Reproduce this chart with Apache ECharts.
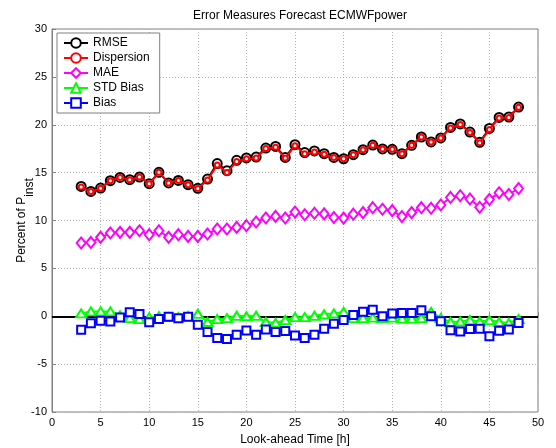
<!DOCTYPE html>
<html>
<head>
<meta charset="utf-8">
<script src="https://cdn.jsdelivr.net/npm/echarts@6/dist/echarts.min.js"></script>
<style>
  html, body { margin: 0; padding: 0; background: #fff; }
  #chart { width: 556px; height: 448px; }
</style>
</head>
<body>
<div id="chart"></div>
<script>
// Look-ahead hours and error measures (percent of installed power)
const HOURS = [3, 4, 5, 6, 7, 8, 9, 10, 11, 12, 13, 14, 15, 16, 17, 18, 19, 20, 21, 22, 23, 24, 25,
  26, 27, 28, 29, 30, 31, 32, 33, 34, 35, 36, 37, 38, 39, 40, 41, 42, 43, 44, 45, 46, 47, 48];

const RMSE = [13.56, 13.04, 13.39, 14.16, 14.50, 14.26, 14.54, 13.84, 15.03, 13.92, 14.19, 13.74,
  13.36, 14.33, 15.95, 15.20, 16.28, 16.53, 16.63, 17.57, 17.74, 16.59, 17.92, 17.10, 17.26, 16.98,
  16.59, 16.45, 16.87, 17.40, 17.88, 17.47, 17.43, 16.98, 17.85, 18.72, 18.20, 18.62, 19.72, 20.08,
  19.24, 18.16, 19.62, 20.77, 20.81, 21.85];

const DISPERSION = [13.49, 13.02, 13.38, 14.15, 14.50, 14.25, 14.54, 13.83, 15.03, 13.92, 14.19, 13.74,
  13.33, 14.23, 15.79, 15.02, 16.17, 16.46, 16.52, 17.52, 17.66, 16.52, 17.81, 16.96, 17.15, 16.93,
  16.57, 16.45, 16.87, 17.39, 17.87, 17.47, 17.43, 16.98, 17.85, 18.71, 18.20, 18.61, 19.67, 20.02,
  19.20, 18.11, 19.51, 20.71, 20.76, 21.84];

const MAE = [7.65, 7.71, 8.24, 8.69, 8.76, 8.76, 8.93, 8.52, 8.93, 8.24, 8.52, 8.34, 8.34, 8.59,
  9.11, 9.11, 9.28, 9.46, 9.84, 10.26, 10.43, 10.26, 10.88, 10.60, 10.76, 10.69, 10.31, 10.25, 10.66,
  10.82, 11.34, 11.17, 11.03, 10.41, 10.82, 11.34, 11.28, 11.62, 12.41, 12.58, 12.24, 11.38, 12.20,
  12.89, 12.72, 13.34];

const STD_BIAS = [0.30, 0.50, 0.50, 0.50, 0.10, -0.20, -0.30, -0.10, 0.00, -0.10, -0.10, 0.00, 0.25,
  -0.60, -0.30, -0.20, 0.05, 0.00, 0.05, -0.60, -0.70, -0.40, -0.10, -0.10, 0.05, 0.20, 0.30, 0.45,
  -0.20, -0.20, -0.15, -0.20, -0.15, -0.25, -0.25, -0.20, 0.45, -0.20, -0.60, -0.55, -0.40, -0.55,
  -0.40, -0.60, -0.70, -0.30];

const BIAS = [-1.41, -0.72, -0.48, -0.55, -0.14, 0.41, 0.24, -0.62, -0.28, -0.04, -0.21, -0.04, -0.90,
  -1.65, -2.27, -2.38, -1.93, -1.48, -1.93, -1.38, -1.65, -1.55, -2.00, -2.27, -1.93, -1.31, -0.79,
  -0.38, 0.13, 0.48, 0.68, 0.00, 0.30, 0.35, 0.34, 0.62, 0.00, -0.52, -1.46, -1.58, -1.32, -1.31,
  -2.10, -1.52, -1.38, -0.70];

const FONT = '"Liberation Sans", Arial, Helvetica, sans-serif';
const pairs = (vals) => HOURS.map((h, i) => [h, vals[i]]);

function lineSeries(name, vals, color, symbol, size, fill, z) {
  return {
    name: name,
    type: 'line',
    data: pairs(vals),
    z: z,
    symbol: symbol,
    symbolSize: size,
    showAllSymbol: true,
    animation: false,
    lineStyle: { color: color, width: 2 },
    itemStyle: { color: fill, borderColor: color, borderWidth: 2 },
    emphasis: { disabled: true }
  };
}

const chart = echarts.init(document.getElementById('chart'), null, { renderer: 'canvas' });

const series = [
  lineSeries('RMSE', RMSE, '#000000', 'circle', 9, '#ffffff', 2),
  lineSeries('Dispersion', DISPERSION, '#ff0000', 'circle', 5, '#ffffff', 3),
  lineSeries('MAE', MAE, '#ff00ff', 'diamond', [9, 11], '#ffffff', 4),
  lineSeries('STD Bias', STD_BIAS, '#00ff00', 'triangle', [10, 8], '#ffffff', 5),
  lineSeries('Bias', BIAS, '#0000ff', 'rect', 8, '#ffffff', 6)
];

// zero reference line
series[0].markLine = {
  silent: true,
  symbol: 'none',
  label: { show: false },
  lineStyle: { color: '#000000', width: 2, type: 'solid' },
  data: [{ yAxis: 0 }]
};

chart.setOption({
  backgroundColor: '#ffffff',
  textStyle: { fontFamily: FONT },
  title: {
    text: 'Error Measures Forecast ECMWFpower',
    left: 295,
    textAlign: 'center',
    top: 5,
    textStyle: { fontFamily: FONT, fontSize: 12, fontWeight: 'normal', color: '#000' }
  },
  legend: {
    left: 57,
    top: 33,
    orient: 'vertical',
    backgroundColor: '#ffffff',
    borderColor: '#808080',
    borderWidth: 1,
    borderRadius: 0,
    padding: [4, 10, 4, 6],
    itemGap: 3,
    itemWidth: 24,
    itemHeight: 12,
    z: 10,
    textStyle: { fontFamily: FONT, fontSize: 12, color: '#000' },
    data: ['RMSE', 'Dispersion', 'MAE', 'STD Bias', 'Bias']
  },
  grid: {
    left: 52, right: 18, top: 29, bottom: 36,
    outerBoundsMode: 'none',
    containLabel: false,
    show: true,
    borderColor: '#808080',
    borderWidth: 1,
    backgroundColor: '#ffffff'
  },
  xAxis: {
    type: 'value',
    min: 0, max: 50, interval: 5,
    name: 'Look-ahead Time [h]',
    nameLocation: 'middle',
    nameGap: 22,
    nameMoveOverlap: false,
    nameTextStyle: { fontFamily: FONT, fontSize: 12, color: '#000' },
    axisLine: { show: true, lineStyle: { color: '#808080', width: 1 } },
    axisTick: { show: true, inside: true, length: 4, lineStyle: { color: '#808080' } },
    axisLabel: { fontFamily: FONT, fontSize: 11, color: '#000', margin: 5 },
    splitLine: { show: true, lineStyle: { color: '#b4b4b4', type: [1, 2], width: 1 } }
  },
  yAxis: {
    type: 'value',
    min: -10, max: 30, interval: 5,
    name: 'Percent of P{sub|inst}',
    nameLocation: 'middle',
    nameGap: 16,
    nameMoveOverlap: false,
    nameRotate: 90,
    nameTextStyle: {
      fontFamily: FONT, fontSize: 12, color: '#000',
      rich: { sub: { fontFamily: FONT, fontSize: 12, color: '#000', padding: [16, 0, 0, 0] } }
    },
    axisLine: { show: true, lineStyle: { color: '#808080', width: 1 } },
    axisTick: { show: true, inside: true, length: 4, lineStyle: { color: '#808080' } },
    axisLabel: { fontFamily: FONT, fontSize: 11, color: '#000', margin: 5 },
    splitLine: { show: true, lineStyle: { color: '#b4b4b4', type: [1, 2], width: 1 } }
  },
  series: series
});
</script>
</body>
</html>
